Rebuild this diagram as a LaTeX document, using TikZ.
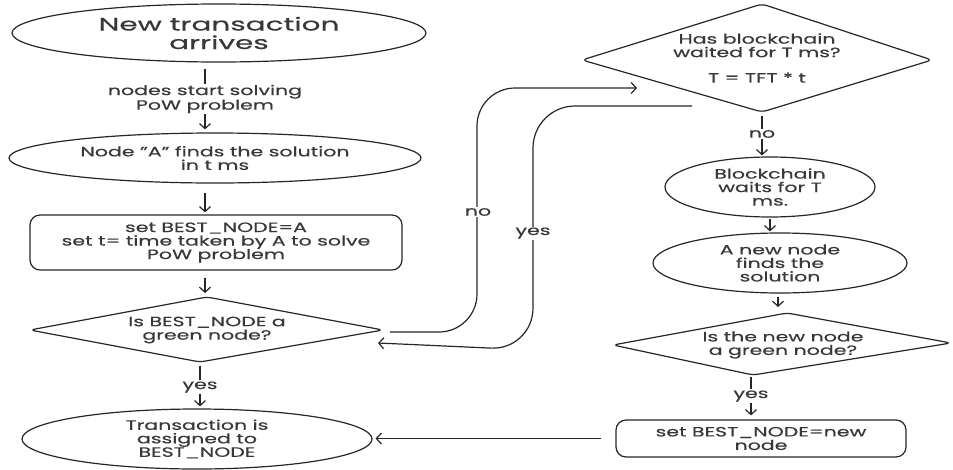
\documentclass[tikz,border=0pt]{standalone}
\usepackage{fontspec}
\setmainfont{Poppins}[FakeStretch=1.52, FakeBold=0.4]
\newfontfamily\titlefont{Poppins}[FakeStretch=1.64, FakeBold=0.5]
\usetikzlibrary{shapes.geometric,arrows.meta}
\begin{document}
\begin{tikzpicture}[x=1pt,y=-1pt,
  every node/.style={font=\fontsize{13.5}{13.5}\selectfont, align=center, text=black!78},
  lin/.style={draw=black!85, line width=1.2pt},
  arr/.style={lin, -{Straight Barb[length=5pt,width=11pt]}},
  tick/.style={draw=black!85, line width=2.4pt},
  ell/.style={ellipse, lin, inner sep=0pt},
  rbox/.style={rectangle, rounded corners=10pt, lin, inner sep=0pt},
  dia/.style={lin, rounded corners=5pt},
  lbl/.style={inner sep=1pt},
]
\useasboundingbox (0,0) rectangle (953,469);

% ---------- left column ----------
\node[ell, minimum width=414pt, minimum height=58pt, font=\titlefont\fontsize{18}{18.5}\selectfont] (e1) at (219,33) {New transaction\\arrives};
\node[lbl] (l1) at (205,99) {nodes start solving\\PoW problem};
\node[ell, minimum width=412pt, minimum height=50pt] (e2) at (215,158) {Node "A" finds the solution\\in t ms};
\node[rbox, minimum width=372pt, minimum height=55pt] (r1) at (216,242.5) {set BEST\_NODE=A\\set t= time taken by A to solve\\PoW problem};
\coordinate (d1l) at (30,330);
\coordinate (d1t) at (207,297);
\coordinate (d1r) at (383,330);
\coordinate (d1b) at (200,362);
\draw[dia] (d1l) -- (d1t) -- (d1r) -- (d1b) -- cycle;
\node (d1) at (207,330) {Is BEST\_NODE a\\green node?};
\node[lbl] (y1) at (200,387) {yes};
\node[ell, minimum width=350pt, minimum height=60pt] (e3) at (197,439) {Transaction is\\assigned to\\BEST\_NODE};

% ---------- right column ----------
\coordinate (d2l) at (582,60);
\coordinate (d2t) at (762,4);
\coordinate (d2r) at (932,60);
\coordinate (d2b) at (762,112);
\draw[dia] (d2l) -- (d2t) -- (d2r) -- (d2b) -- cycle;
\node (d2) at (757,58) {Has blockchain\\waited for T ms?\\[12pt]T = TFT * t};
\node[lbl] (n2) at (762,134) {no};
\node[ell, minimum width=210pt, minimum height=60pt] (e4) at (770,187) {Blockchain\\waits for T\\ms.};
\node[ell, minimum width=254pt, minimum height=60pt] (e5) at (780,263) {A new node\\finds the\\solution};
\coordinate (d3l) at (613,345);
\coordinate (d3t) at (787,313);
\coordinate (d3r) at (951,343);
\coordinate (d3b) at (753,375);
\draw[dia] (d3l) -- (d3t) -- (d3r) -- (d3b) -- cycle;
\node (d3) at (783,345) {Is the new node\\a green node?};
\node[lbl] (y2) at (751,396) {yes};
\node[rbox, minimum width=290pt, minimum height=37pt] (r2) at (761,438.5) {set BEST\_NODE=new\\node};

% ---------- connectors ----------
\draw[tick, shorten <=6pt] (l1.north |- e1.south) -- (l1.north);
\draw[arr, shorten >=3pt] (l1.south) -- (l1.south |- e2.north);
\draw[arr, shorten <=9pt, shorten >=2pt] (e2.south -| l1) -- (r1.north -| l1);
\draw[arr, shorten <=7pt, shorten >=4pt] (r1.south -| l1) -- (d1t -| l1);
\draw[tick, shorten <=4pt] (y1.north |- d1b) -- (y1.north);
\draw[arr, shorten >=2pt] (y1.south) -- (e3.north -| y1);

\draw[tick, shorten <=4pt] (d2b) -- (n2.north);
\draw[arr, shorten >=1pt] (n2.south) -- (e4.north -| n2);
\draw[arr, shorten <=1pt, shorten >=1pt] (e4.south) -- (e5.north -| e4);
\draw[arr, shorten <=3pt, shorten >=6pt] (e5.south -| 778,0) -- (778,313);
\draw[tick, shorten <=2pt] (y2.north |- d3b) -- (y2.north);
\draw[arr, shorten >=4pt] (y2.south) -- (r2.north -| y2);

\draw[arr, shorten <=14pt, shorten >=3pt] (r2.west) -- (e3.east |- r2.west);

% no / yes loops
\coordinate (noS) at (390,332);
\coordinate (noE) at (637,88);
\coordinate (yesS) at (692,106);
\coordinate (yesE) at (378,343);
\draw[arr, rounded corners=38pt] (noS) -- (477,332) -- (477,88) -- (noE);
\node[fill=white, inner sep=1pt] (nl) at (478,212) {no};
\draw[arr, rounded corners=42pt] (yesS) -- (533,106) -- (533,350) -- (yesE);
\node[fill=white, inner sep=1pt] (yl) at (533,233) {yes};
\end{tikzpicture}
\end{document}
